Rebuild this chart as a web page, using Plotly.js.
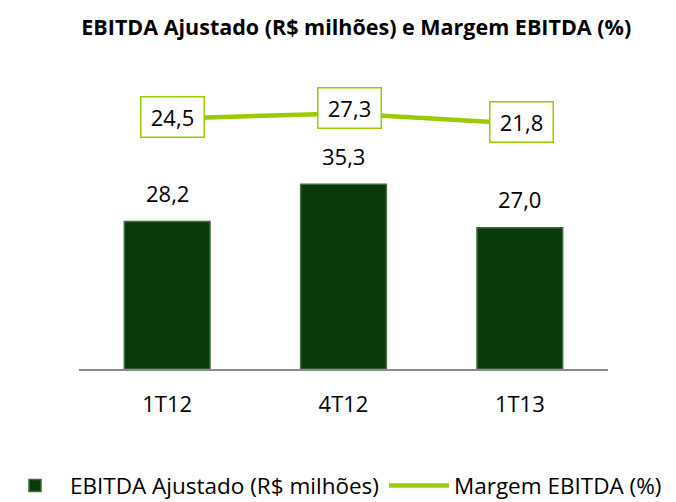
<!DOCTYPE html>
<html>
<head>
<meta charset="utf-8">
<script src="https://cdn.plot.ly/plotly-3.0.1.min.js"></script>
<style>html,body{margin:0;padding:0;background:#fff;}#chart{width:676px;height:502px;}</style>
</head>
<body>
<div id="chart"></div>
<script>
var categories = ['1T12', '4T12', '1T13'];
var ebitdaValues = [28.2, 35.3, 27.0];
var ebitdaLabels = ['28,2', '35,3', '27,0'];
var marginValues = [24.5, 27.3, 21.8];
var marginLabels = ['24,5', '27,3', '21,8'];

var FONT = '"Open Sans", "Noto Sans", sans-serif';
var labelShift = [{x: 5, y: 2}, {x: 6, y: 5}, {x: 2, y: 2}];

var traces = [
  {
    type: 'bar',
    name: 'EBITDA Ajustado (R$ milhões)',
    x: categories,
    y: ebitdaValues,
    marker: {color: '#0a3a0b', line: {color: '#3d6e3c', width: 1.5}},
    width: 0.486,
    hoverinfo: 'skip'
  },
  {
    type: 'scatter',
    mode: 'lines',
    name: 'Margem EBITDA (%)',
    x: categories,
    y: marginValues,
    yaxis: 'y2',
    line: {color: '#99cc00', width: 4.5},
    hoverinfo: 'skip'
  }
];

var annotations = [];
categories.forEach(function (c, i) {
  annotations.push({
    x: c, y: ebitdaValues[i], xref: 'x', yref: 'y',
    text: ebitdaLabels[i], showarrow: false,
    xanchor: 'center', yanchor: 'middle', yshift: 28.5,
    font: {family: FONT, size: 22, color: '#000'}
  });
  annotations.push({
    x: c, y: marginValues[i], xref: 'x', yref: 'y2',
    text: marginLabels[i], showarrow: false,
    xanchor: 'center', yanchor: 'middle',
    xshift: labelShift[i].x, yshift: labelShift[i].y,
    width: 60, height: 37, borderpad: 1,
    bgcolor: '#ffffff', bordercolor: '#99cc00', borderwidth: 1.5,
    font: {family: FONT, size: 22, color: '#000'}
  });
});

var layout = {
  width: 676, height: 502,
  paper_bgcolor: '#ffffff', plot_bgcolor: '#ffffff',
  margin: {l: 0, r: 0, t: 60, b: 133, autoexpand: false},
  title: {
    text: '<b>EBITDA Ajustado (R$ milhões) e Margem EBITDA (%)</b>',
    font: {family: FONT, size: 21.5, color: '#000'},
    x: 0.527, xanchor: 'center', y: 0.945, yanchor: 'middle'
  },
  showlegend: true,
  legend: {
    orientation: 'h',
    x: 0.0, xanchor: 'left', y: -0.3786, yanchor: 'middle',
    font: {family: FONT, size: 22.5, color: '#000'},
    traceorder: 'normal', itemwidth: 60
  },
  bargap: 0.514,
  xaxis: {
    type: 'category', domain: [0.11686, 0.89941],
    showgrid: false, zeroline: false,
    showline: true, linecolor: '#8c8c8c', linewidth: 2,
    ticks: 'outside', ticklen: 15, tickcolor: 'rgba(0,0,0,0)',
    tickfont: {family: FONT, size: 22, color: '#000'}
  },
  yaxis: {
    range: [0, 59.08], visible: false, showgrid: false, zeroline: false, fixedrange: true
  },
  yaxis2: {
    range: [-110.8, 56.2], overlaying: 'y', side: 'right',
    visible: false, showgrid: false, zeroline: false, fixedrange: true
  },
  annotations: annotations
};

Plotly.newPlot('chart', traces, layout, {staticPlot: true, displayModeBar: false});
</script>
</body>
</html>
